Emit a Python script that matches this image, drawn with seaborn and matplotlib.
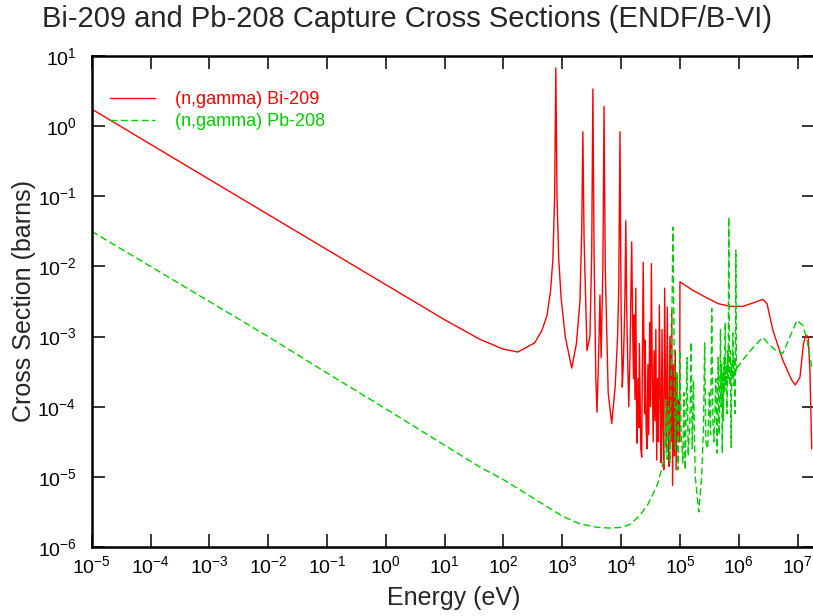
import numpy as np
import pandas as pd
import matplotlib
matplotlib.use("Agg")
import matplotlib.pyplot as plt
import seaborn as sns

# ---------------- data (log10 values) ----------------
bi209_log_energy = [
    -5.0, -3.0, -1.0, 0.0, 1.0, 1.6, 2.0, 2.245, 2.53, 2.65, 2.74, 2.80, 2.84, 2.87,
    2.89, 2.91, 2.94, 2.98, 3.05, 3.16, 3.24, 3.30, 3.33, 3.35, 3.37, 3.42, 3.47,
    3.50, 3.52, 3.54, 3.57, 3.59, 3.62, 3.64, 3.66, 3.69, 3.71, 3.73, 3.78, 3.84,
    3.90, 3.94, 3.96, 3.98, 4.00, 4.02, 4.035, 4.05, 4.065, 4.08, 4.095, 4.11, 4.13,
    4.15, 4.165, 4.18, 4.195, 4.21, 4.22, 4.235, 4.25, 4.26, 4.27, 4.285, 4.30, 4.31,
    4.325, 4.335, 4.35, 4.36, 4.375, 4.39, 4.40, 4.41, 4.425, 4.44, 4.455, 4.47,
    4.485, 4.50, 4.515, 4.53, 4.545, 4.56, 4.575, 4.59, 4.605, 4.62, 4.635, 4.65,
    4.665, 4.68, 4.695, 4.71, 4.725, 4.74, 4.755, 4.77, 4.785, 4.80, 4.815, 4.83,
    4.845, 4.86, 4.875, 4.89, 4.905, 4.92, 4.935, 4.95, 4.965, 4.98, 4.995, 5.00,
    5.20, 5.46, 5.65, 5.85, 6.07, 6.24, 6.41, 6.48, 6.58, 6.75, 6.90, 6.96, 7.04,
    7.10, 7.14, 7.18, 7.21, 7.24,
]
bi209_log_sigma = [
    0.243, -0.76, -1.76, -2.26, -2.76, -3.04, -3.18, -3.22, -3.09, -2.92, -2.70, -2.35, -1.90, -1.00,
    0.83, -1.00, -1.90, -2.45, -3.00, -3.45, -3.10, -2.50, -1.50, -0.08, -1.60, -3.20, -3.00,
    -1.80, 0.53, -1.80, -3.60, -4.08, -3.20, -2.41, -3.30, -2.00, 0.28, -2.00, -3.80, -4.24,
    -3.70, -3.00, -2.30, -0.08, -2.60, -3.72, -3.44, -3.00, -2.40, -1.35, -2.60, -3.30, -4.00,
    -3.30, -2.50, -1.65, -2.80, -3.60, -2.69, -3.90, -2.31, -3.80, -4.52, -3.60, -4.30, -3.10,
    -4.00, -4.60, -4.72, -3.50, -1.94, -3.20, -4.10, -3.05, -4.30, -4.60, -3.40, -4.40,
    -2.80, -4.00, -1.96, -3.60, -4.50, -3.20, -4.20, -2.90, -4.76, -3.60, -4.50, -2.55,
    -3.90, -4.80, -2.90, -4.30, -4.90, -2.31, -3.80, -4.60, -2.58, -4.20, -4.85, -3.00,
    -4.50, -2.62, -5.12, -3.40, -4.70, -3.20, -4.90, -3.60, -4.50, -3.90, -4.50, -2.22,
    -2.33, -2.45, -2.53, -2.57, -2.57, -2.52, -2.47, -2.53, -2.91, -3.34, -3.62, -3.69, -3.58,
    -3.10, -2.98, -3.00, -3.50, -4.60,
]

pb208_log_energy = [
    -5.0, -4.0, -3.0, -2.0, -1.0, 0.0, 1.0, 1.6, 2.0, 2.5, 3.0, 3.3, 3.6, 3.81, 4.0,
    4.15, 4.32, 4.45, 4.54, 4.62, 4.66, 4.70, 4.74, 4.76, 4.78, 4.81, 4.83, 4.86,
    4.88, 4.90, 4.92, 4.95, 4.97, 5.00, 5.02, 5.05, 5.07, 5.09, 5.12, 5.14, 5.17,
    5.19, 5.21, 5.23, 5.26, 5.32, 5.37, 5.40, 5.42, 5.44, 5.47, 5.50, 5.52, 5.54,
    5.56, 5.58, 5.61, 5.63, 5.65, 5.665, 5.68, 5.69, 5.70, 5.71, 5.72, 5.73, 5.74,
    5.75, 5.76, 5.77, 5.78, 5.79, 5.80, 5.81, 5.82, 5.83, 5.84, 5.85, 5.86, 5.87,
    5.88, 5.89, 5.90, 5.91, 5.92, 5.93, 5.94, 5.95, 5.96, 5.97, 6.10, 6.25, 6.41,
    6.50, 6.62, 6.75, 6.87, 6.99, 7.09, 7.16, 7.24,
]
pb208_log_sigma = [
    -1.50, -2.00, -2.50, -3.00, -3.52, -4.03, -4.55, -4.86, -5.04, -5.30, -5.56, -5.67, -5.72, -5.73, -5.72,
    -5.68, -5.55, -5.40, -5.25, -5.10, -4.98, -4.85, -4.70, -3.90, -4.75, -4.00, -4.80, -3.00,
    -1.44, -3.00, -4.60, -3.50, -4.90, -3.20, -4.40, -4.80, -3.80, -4.90, -3.30, -4.70, -4.20,
    -3.08, -4.60, -3.62, -5.00, -5.50, -5.00, -4.30, -3.09, -4.50, -4.60, -3.80, -4.40, -2.60,
    -4.20, -4.50, -3.60, -4.66, -3.30, -4.40, -3.60, -2.90, -4.00, -3.40, -4.66, -3.50, -4.20,
    -3.30, -3.80, -2.80, -3.70, -3.40, -4.10, -3.20, -3.60, -1.30, -3.40, -3.70, -3.20, -4.58,
    -3.40, -3.60, -2.95, -3.70, -3.30, -3.60, -4.10, -1.77, -3.50, -3.45, -3.30, -3.15, -3.01,
    -3.10, -3.19, -3.24, -3.00, -2.77, -2.84, -3.05, -3.43,
]

series_labels = ["(n,gamma) Bi-209", "(n,gamma) Pb-208"]
x_tick_values = [1e-5, 1e-4, 1e-3, 1e-2, 1e-1, 1e0, 1e1, 1e2, 1e3, 1e4, 1e5, 1e6, 1e7]
y_tick_values = [1e-6, 1e-5, 1e-4, 1e-3, 1e-2, 1e-1, 1e0, 1e1]
title_text = "Bi-209 and Pb-208 Capture Cross Sections (ENDF/B-VI)"
x_label = "Energy (eV)"
y_label = "Cross Section (barns)"

# ---------------- style ----------------
sns.set_style("ticks")
plt.rcParams["font.family"] = ["Liberation Sans", "DejaVu Sans"]
plt.rcParams["mathtext.fontset"] = "custom"
plt.rcParams["mathtext.rm"] = "Liberation Sans"
plt.rcParams["mathtext.it"] = "Liberation Sans:italic"
plt.rcParams["mathtext.bf"] = "Liberation Sans:bold"
plt.rcParams["axes.unicode_minus"] = False

W, H = 813, 616
fig = plt.figure(figsize=(W / 100, H / 100), dpi=100)
fig.patch.set_facecolor("white")
ax = fig.add_axes([91.7 / W, 1 - 547 / H, 723.6 / W, 491 / H])
ax.set_xscale("log")
ax.set_yscale("log")

df_bi = pd.DataFrame({"energy": 10 ** np.array(bi209_log_energy),
                      "sigma": 10 ** np.array(bi209_log_sigma)})
df_pb = pd.DataFrame({"energy": 10 ** np.array(pb208_log_energy),
                      "sigma": 10 ** np.array(pb208_log_sigma)})

sns.lineplot(data=df_bi, x="energy", y="sigma", ax=ax, color="#ff0000", lw=1.0,
             estimator=None, sort=False, label=series_labels[0])
sns.lineplot(data=df_pb, x="energy", y="sigma", ax=ax, color="#00cc00", lw=1.0,
             linestyle=(0, (5, 2.5)), estimator=None, sort=False, label=series_labels[1])

ax.set_xlim(1e-5, 2e7)
ax.set_ylim(1e-6, 1e1)
ax.set_xticks(x_tick_values)
ax.set_yticks(y_tick_values)
ax.minorticks_off()
ax.tick_params(axis="both", which="major", direction="in", length=9.5, width=1.1,
               top=True, right=True, labelsize=14, colors="black")
ax.tick_params(axis="x", pad=6)
ax.tick_params(axis="y", pad=11)
for sp in ax.spines.values():
    sp.set_linewidth(1.8)
    sp.set_color("black")

ax.set_xlabel(x_label, fontsize=18, labelpad=6)
ax.set_ylabel(y_label, fontsize=18)
ax.yaxis.set_label_coords(-0.077, 0.5)
fig.text(0.5, 1 - 19 / H, title_text, ha="center", va="center", fontsize=21)

leg = ax.legend(loc="upper left", bbox_to_anchor=(0.025, 0.928), frameon=False,
                borderaxespad=0, borderpad=0, handlelength=2.5, handletextpad=1.1,
                labelspacing=0.25, fontsize=13, labelcolor="linecolor")

fig.savefig("out.png", dpi=100, facecolor="white")
